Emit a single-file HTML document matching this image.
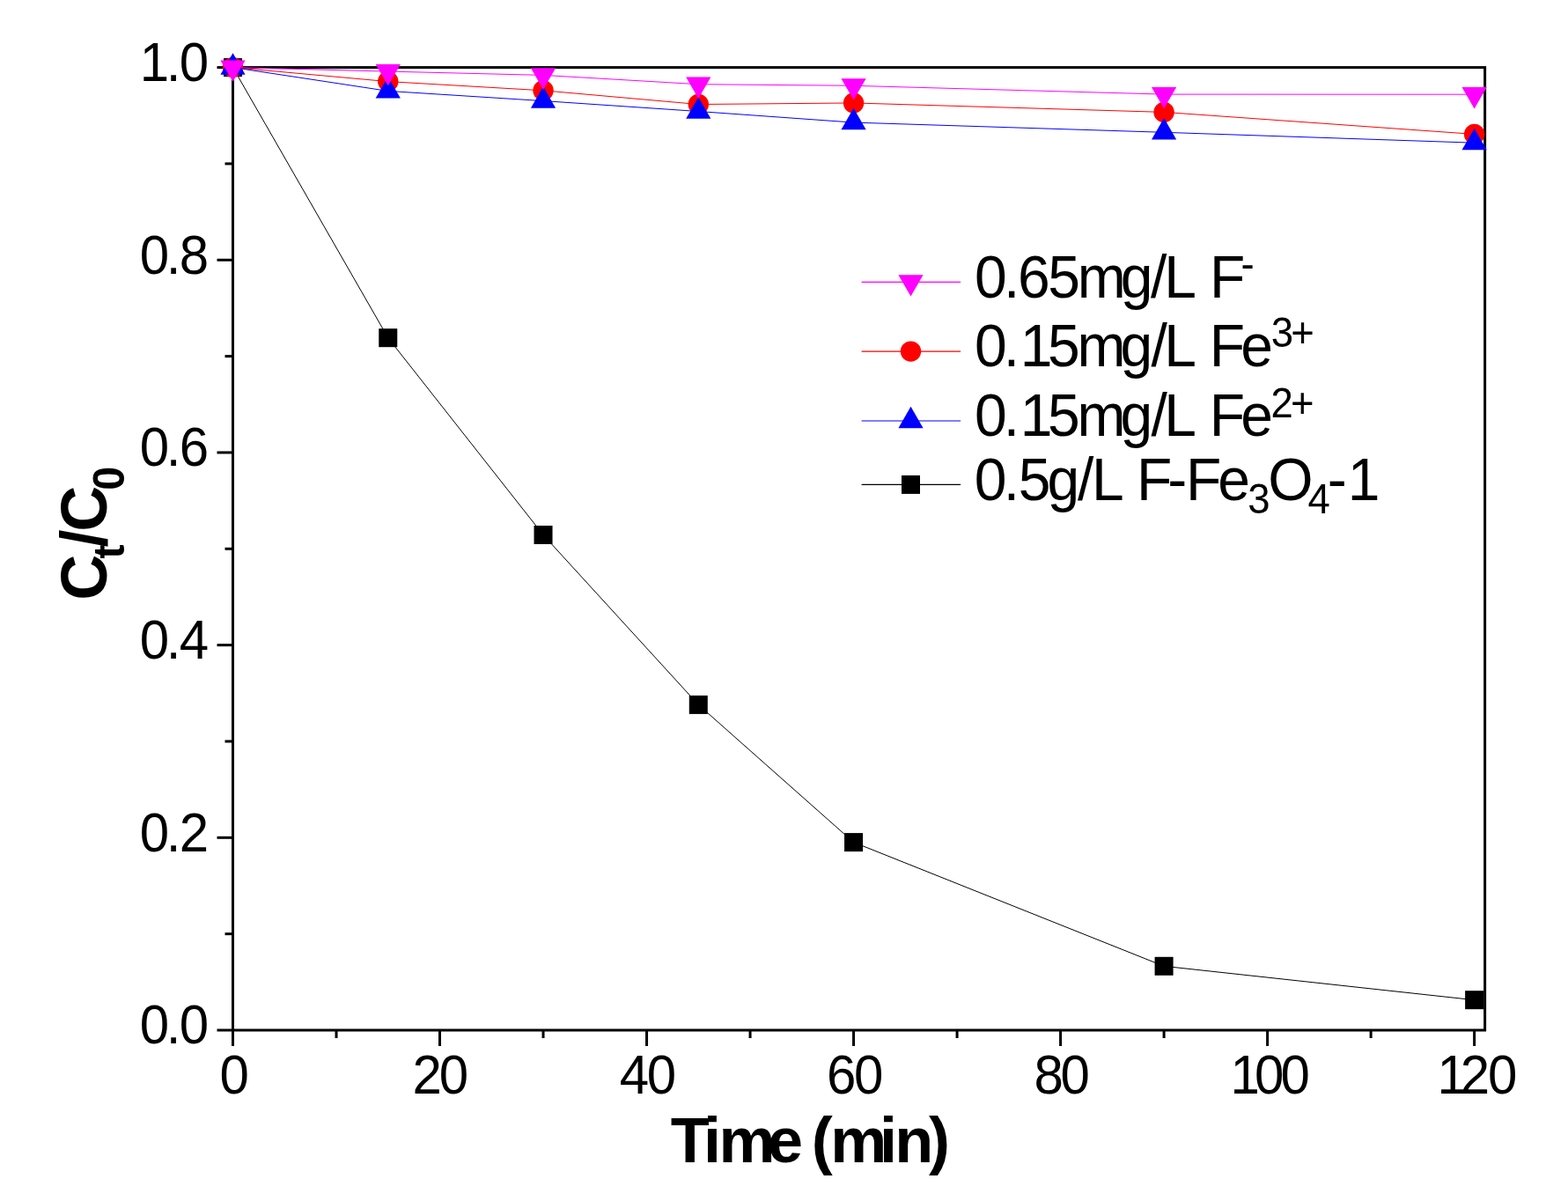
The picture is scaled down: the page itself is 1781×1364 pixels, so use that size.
<!DOCTYPE html>
<html><head><meta charset="utf-8"><title>Ct/C0 vs Time</title>
<style>html,body{margin:0;padding:0;background:#fff;}svg{display:block;}</style>
</head><body>
<svg width="1781" height="1364" viewBox="0 0 1781 1364">
<rect width="1781" height="1364" fill="#fff"/>
<g stroke="#000" stroke-width="3" fill="none" stroke-linecap="square">
<rect x="264.5" y="76.6" width="1422.12" height="1093.4"/>
</g>
<g stroke="#000" stroke-width="3" fill="none">
<line x1="264.5" y1="1170" x2="264.5" y2="1188"/>
<line x1="382.01" y1="1170" x2="382.01" y2="1179"/>
<line x1="499.52" y1="1170" x2="499.52" y2="1188"/>
<line x1="617.03" y1="1170" x2="617.03" y2="1179"/>
<line x1="734.54" y1="1170" x2="734.54" y2="1188"/>
<line x1="852.05" y1="1170" x2="852.05" y2="1179"/>
<line x1="969.56" y1="1170" x2="969.56" y2="1188"/>
<line x1="1087.07" y1="1170" x2="1087.07" y2="1179"/>
<line x1="1204.58" y1="1170" x2="1204.58" y2="1188"/>
<line x1="1322.09" y1="1170" x2="1322.09" y2="1179"/>
<line x1="1439.6" y1="1170" x2="1439.6" y2="1188"/>
<line x1="1557.11" y1="1170" x2="1557.11" y2="1179"/>
<line x1="1674.62" y1="1170" x2="1674.62" y2="1188"/>
<line x1="264.5" y1="1170" x2="246.5" y2="1170"/>
<line x1="264.5" y1="1060.66" x2="255.5" y2="1060.66"/>
<line x1="264.5" y1="951.32" x2="246.5" y2="951.32"/>
<line x1="264.5" y1="841.98" x2="255.5" y2="841.98"/>
<line x1="264.5" y1="732.64" x2="246.5" y2="732.64"/>
<line x1="264.5" y1="623.3" x2="255.5" y2="623.3"/>
<line x1="264.5" y1="513.96" x2="246.5" y2="513.96"/>
<line x1="264.5" y1="404.62" x2="255.5" y2="404.62"/>
<line x1="264.5" y1="295.28" x2="246.5" y2="295.28"/>
<line x1="264.5" y1="185.94" x2="255.5" y2="185.94"/>
<line x1="264.5" y1="76.6" x2="246.5" y2="76.6"/>
</g>
<g font-family="Liberation Sans, Arial, sans-serif" font-size="60" fill="#000">
<text transform="translate(0,1185.4) scale(1,1.04)" x="158.75 188.72 203.85" y="0" >0.0</text>
<text transform="translate(0,966.72) scale(1,1.04)" x="158.75 188.72 203.85" y="0" >0.2</text>
<text transform="translate(0,748.04) scale(1,1.04)" x="158.75 188.72 203.85" y="0" >0.4</text>
<text transform="translate(0,529.36) scale(1,1.04)" x="158.75 188.72 203.85" y="0" >0.6</text>
<text transform="translate(0,310.68) scale(1,1.04)" x="158.75 188.72 203.85" y="0" >0.8</text>
<text transform="translate(0,92) scale(1,1.04)" x="158.75 188.72 203.85" y="0" >1.0</text>
<text transform="translate(0,1242) scale(1,1.04)" x="249.46" y="0" >0</text>
<text transform="translate(0,1242) scale(1,1.04)" x="468.58 498.76" y="0" >20</text>
<text transform="translate(0,1242) scale(1,1.04)" x="703.82 734.86" y="0" >40</text>
<text transform="translate(0,1242) scale(1,1.04)" x="939.05 970.06" y="0" >60</text>
<text transform="translate(0,1242) scale(1,1.04)" x="1174.59 1204.46" y="0" >80</text>
<text transform="translate(0,1242) scale(1,1.04)" x="1397.53 1424.96 1454.56" y="0" >100</text>
<text transform="translate(0,1242) scale(1,1.04)" x="1632.63 1658.78 1690.06" y="0" >120</text>
</g>
<polyline points="264.5,76.6 440.76,383.7 617.03,607.5 793.29,800.4 969.56,956.6 1322.09,1097.3 1674.62,1135.7" fill="none" stroke="#000" stroke-width="1.0" stroke-linejoin="round"/>
<polyline points="264.5,76.6 440.76,92.6 617.03,102.8 793.29,118.5 969.56,116.95 1322.09,127.4 1674.62,152.4" fill="none" stroke="#f00" stroke-width="1.0" stroke-linejoin="round"/>
<polyline points="264.5,76.6 440.76,103.4 617.03,114.6 793.29,126.5 969.56,139.1 1322.09,150.3 1674.62,162.2" fill="none" stroke="#00f" stroke-width="1.0" stroke-linejoin="round"/>
<polyline points="264.5,76.6 440.76,81.1 617.03,85.4 793.29,95.7 969.56,97.3 1322.09,107.1 1674.62,107.2" fill="none" stroke="#f0f" stroke-width="1.0" stroke-linejoin="round"/>
<rect x="254" y="66.1" width="21" height="21" fill="#000"/>
<rect x="430.26" y="373.2" width="21" height="21" fill="#000"/>
<rect x="606.53" y="597" width="21" height="21" fill="#000"/>
<rect x="782.79" y="789.9" width="21" height="21" fill="#000"/>
<rect x="959.06" y="946.1" width="21" height="21" fill="#000"/>
<rect x="1311.59" y="1086.8" width="21" height="21" fill="#000"/>
<rect x="1664.12" y="1125.2" width="21" height="21" fill="#000"/>
<circle cx="264.5" cy="76.6" r="11.7" fill="#f00"/>
<circle cx="440.76" cy="92.6" r="11.7" fill="#f00"/>
<circle cx="617.03" cy="102.8" r="11.7" fill="#f00"/>
<circle cx="793.29" cy="118.5" r="11.7" fill="#f00"/>
<circle cx="969.56" cy="116.95" r="11.7" fill="#f00"/>
<circle cx="1322.09" cy="127.4" r="11.7" fill="#f00"/>
<circle cx="1674.62" cy="152.4" r="11.7" fill="#f00"/>
<polygon points="264.5,60.33 250.4,84.73 278.6,84.73" fill="#00f"/>
<polygon points="440.76,87.13 426.66,111.53 454.87,111.53" fill="#00f"/>
<polygon points="617.03,98.33 602.93,122.73 631.13,122.73" fill="#00f"/>
<polygon points="793.29,110.23 779.19,134.63 807.39,134.63" fill="#00f"/>
<polygon points="969.56,122.83 955.46,147.23 983.66,147.23" fill="#00f"/>
<polygon points="1322.09,134.03 1307.99,158.43 1336.19,158.43" fill="#00f"/>
<polygon points="1674.62,145.93 1660.52,170.33 1688.72,170.33" fill="#00f"/>
<polygon points="250.4,68.47 278.6,68.47 264.5,92.87" fill="#f0f"/>
<polygon points="426.66,72.97 454.87,72.97 440.76,97.37" fill="#f0f"/>
<polygon points="602.93,77.27 631.13,77.27 617.03,101.67" fill="#f0f"/>
<polygon points="779.19,87.57 807.39,87.57 793.29,111.97" fill="#f0f"/>
<polygon points="955.46,89.17 983.66,89.17 969.56,113.57" fill="#f0f"/>
<polygon points="1307.99,98.97 1336.19,98.97 1322.09,123.37" fill="#f0f"/>
<polygon points="1660.52,99.07 1688.72,99.07 1674.62,123.47" fill="#f0f"/>
<line x1="978.6" y1="320.3" x2="1091.1" y2="320.3" stroke="#f0f" stroke-width="1.2"/>
<polygon points="1020.4,312.17 1048.6,312.17 1034.5,336.57" fill="#f0f"/>
<line x1="978.6" y1="399.1" x2="1091.1" y2="399.1" stroke="#f00" stroke-width="1.2"/>
<circle cx="1034.5" cy="399.1" r="11.7" fill="#f00"/>
<line x1="978.6" y1="478" x2="1091.1" y2="478" stroke="#00f" stroke-width="1.2"/>
<polygon points="1034.5,461.73 1020.4,486.13 1048.6,486.13" fill="#00f"/>
<line x1="978.6" y1="550.4" x2="1091.1" y2="550.4" stroke="#000" stroke-width="1.2"/>
<rect x="1024" y="539.9" width="21" height="21" fill="#000"/>
<g font-family="Liberation Sans, Arial, sans-serif" font-size="66" fill="#000">
<text transform="translate(0,338.1) scale(1,1.04)" x="1107.02 1139.97 1156.05 1190.16 1223.82 1272.83 1307.1 1322.19 1355.89 1373.89" y="0">0.65mg/L F<tspan x="1409.58" dy="-20.87" font-size="45.5">-</tspan></text>
<text transform="translate(0,416) scale(1,1.04)" x="1106.92 1139.77 1158.67 1189.96 1223.62 1272.43 1307.5 1322.29 1355.99 1373.69 1409.2" y="0">0.15mg/L Fe<tspan x="1443.87 1466.38" dy="-20.87" font-size="45.5">3+</tspan></text>
<text transform="translate(0,495.3) scale(1,1.04)" x="1106.92 1139.77 1158.67 1189.96 1223.62 1272.43 1307.5 1322.29 1355.99 1373.69 1409.2" y="0">0.15mg/L Fe<tspan x="1443.51 1465.98" dy="-20.87" font-size="45.5">2+</tspan></text>
<text transform="translate(0,568) scale(1,1.04)" x="1106.82 1139.77 1156.66 1189.53 1224 1240.09 1273.79 1290.89 1326.17 1346.89 1383.3" y="0">0.5g/L F-Fe<tspan x="1417.17" dy="14.33" font-size="45.5">3</tspan><tspan x="1440.17" dy="-14.33">O</tspan><tspan x="1485.56" dy="14.33" font-size="45.5">4</tspan><tspan x="1507.67 1530.67" dy="-14.33">-1</tspan></text>
</g>
<text transform="translate(0,1319.7) scale(1,1.0)" x="761.74 798.97 816.55 872.1 909.15 921.75 943.25 998.97 1016.35 1055.12" y="0" font-family="Liberation Sans, Arial, sans-serif" font-weight="bold" font-size="72">Time (min)</text>
<text transform="translate(121.3,681) rotate(-90) scale(1,1.04)" font-family="Liberation Sans, Arial, sans-serif" font-weight="bold" font-size="72"><tspan x="-0.69">C</tspan><tspan x="46.51" dy="18.65" font-size="48.5">t</tspan><tspan x="59.6" dy="-18.65">/</tspan><tspan x="77.31">C</tspan><tspan x="124.18" dy="18.65" font-size="48.5">0</tspan></text>
</svg>
</body></html>
